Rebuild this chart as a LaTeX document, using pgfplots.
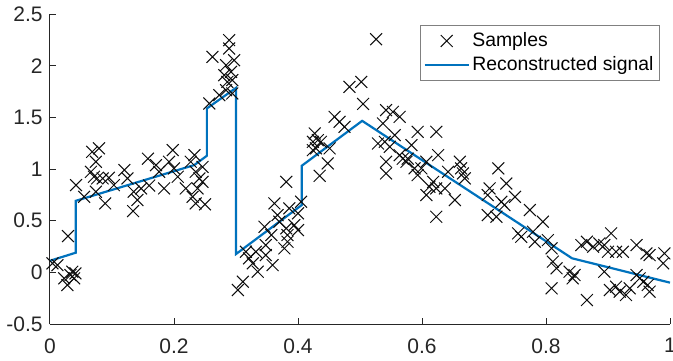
\documentclass[border=0pt]{standalone}
\usepackage{fontspec}
\setmainfont{Liberation Sans}
\usepackage{pgfplots}
\pgfplotsset{compat=1.18}
\definecolor{mblue}{rgb}{0,0.447,0.741}
\pgfplotsset{
 legx/.style={legend image code/.code={\draw[mark repeat=2,mark phase=2,##1] plot coordinates {(0pt,0pt) (11pt,0pt) (22pt,0pt)};}},
 legl/.style={legend image code/.code={\draw[##1] (0pt,0pt) -- (22pt,0pt);}},
}
\begin{document}
\fontsize{10.5}{12.6}\selectfont
\begin{tikzpicture}
\begin{axis}[
 width=310pt, height=155pt, scale only axis,
 xmin=0, xmax=1, ymin=-0.5, ymax=2.5,
 xtick={0,0.2,0.4,0.6,0.8,1}, ytick={-0.5,0,0.5,1,1.5,2,2.5},
 axis x line*=bottom, axis y line*=left,
 axis line style={-, black!85, line width=0.5pt},
 tick align=inside, major tick length=3pt,
 tick style={black!85, line width=0.5pt},
 /pgf/number format/assume math mode=true,
 ticklabel style={font=\fontsize{10.5}{12.6}\selectfont, text=black!85},
 xticklabel style={yshift=-3.5pt},
 legend cell align=left,
 legend style={at={(0.984,0.965)}, anchor=north east, draw=black!50, line width=0.5pt,
   font=\fontsize{9.7}{11.6}\selectfont, inner xsep=1.8pt, inner ysep=1.5pt,
   row sep=-0.5pt, nodes={inner xsep=1.25pt}},
 clip=false,
]
\addplot[only marks, mark=x, mark size=4.2pt, black!95, mark options={line width=0.5pt}, legx]
 table[row sep=\\] {
x y\\
0.004 0.087\\ 0.012 0.07\\ 0.023 -0.058\\ 0.028 -0.123\\ 0.033 -0.026\\ 0.036 0.006\\
0.039 -0.058\\ 0.041 -0.01\\ 0.029 0.351\\ 0.042 0.844\\ 0.055 0.731\\ 0.068 1.166\\
0.079 1.2\\ 0.074 1.07\\ 0.066 0.973\\ 0.071 0.925\\ 0.076 0.909\\ 0.085 0.909\\
0.095 0.915\\ 0.074 0.78\\ 0.089 0.667\\ 0.12 0.99\\ 0.103 0.844\\ 0.125 0.909\\
0.135 0.78\\ 0.141 0.70\\ 0.134 0.593\\ 0.147 0.812\\ 0.158 1.10\\ 0.16 0.84\\
0.171 1.037\\ 0.184 0.812\\ 0.176 0.973\\ 0.198 1.183\\ 0.192 1.07\\ 0.2 1.006\\
0.206 0.925\\ 0.219 0.812\\ 0.233 1.134\\ 0.227 1.07\\ 0.235 0.973\\ 0.246 1.02\\
0.241 0.909\\ 0.246 0.876\\ 0.238 0.812\\ 0.23 0.731\\ 0.235 0.667\\ 0.25 0.658\\
0.257 1.634\\ 0.262 2.085\\ 0.273 1.715\\ 0.289 2.247\\ 0.289 2.166\\ 0.297 2.053\\
0.284 2.005\\ 0.281 1.908\\ 0.292 1.94\\ 0.286 1.843\\ 0.294 1.86\\ 0.294 1.731\\
0.284 1.763\\ 0.316 0.199\\ 0.321 0.135\\ 0.327 0.087\\ 0.311 -0.091\\ 0.303 -0.171\\
0.332 0.199\\ 0.335 0.006\\ 0.348 0.264\\ 0.346 0.441\\ 0.348 0.167\\ 0.357 0.361\\
0.359 0.07\\ 0.362 0.667\\ 0.367 0.554\\ 0.37 0.49\\ 0.378 0.232\\ 0.381 0.426\\
0.383 0.361\\ 0.383 0.296\\ 0.386 0.619\\ 0.394 0.457\\ 0.4 0.409\\ 0.4 0.571\\
0.405 0.683\\ 0.381 0.876\\ 0.427 1.344\\ 0.424 1.263\\ 0.432 1.279\\ 0.429 1.2\\
0.424 1.183\\ 0.437 1.263\\ 0.451 1.2\\ 0.448 1.054\\ 0.435 0.934\\ 0.459 1.505\\
0.467 1.456\\ 0.475 1.408\\ 0.483 1.795\\ 0.502 1.843\\ 0.505 1.63\\ 0.526 2.256\\
0.542 1.57\\ 0.553 1.553\\ 0.564 1.505\\ 0.537 1.441\\ 0.593 1.36\\ 0.623 1.36\\
0.529 1.247\\ 0.54 1.263\\ 0.548 1.215\\ 0.556 1.328\\ 0.542 1.07\\ 0.542 0.957\\
0.564 1.134\\ 0.569 1.10\\ 0.575 1.07\\ 0.577 1.10\\ 0.583 1.231\\ 0.588 1.006\\
0.593 0.941\\ 0.599 1.006\\ 0.607 1.07\\ 0.626 1.134\\ 0.607 0.748\\ 0.612 0.828\\
0.618 0.876\\ 0.623 0.812\\ 0.623 0.538\\ 0.637 0.812\\ 0.642 0.973\\ 0.653 0.70\\
0.661 1.07\\ 0.663 1.006\\ 0.666 0.957\\ 0.669 0.909\\ 0.723 1.006\\ 0.736 0.86\\
0.709 0.812\\ 0.706 0.748\\ 0.728 0.683\\ 0.733 0.651\\ 0.75 0.731\\ 0.706 0.554\\
0.72 0.538\\ 0.774 0.603\\ 0.795 0.49\\ 0.755 0.377\\ 0.76 0.344\\ 0.779 0.393\\
0.782 0.296\\ 0.803 0.312\\ 0.809 0.232\\ 0.811 0.103\\ 0.809 -0.155\\ 0.817 0.039\\
0.838 0.006\\ 0.846 -0.026\\ 0.843 -0.058\\ 0.857 0.264\\ 0.866 0.296\\ 0.876 0.248\\
0.886 0.28\\ 0.905 0.377\\ 0.894 0.264\\ 0.9 0.199\\ 0.913 0.199\\ 0.924 0.199\\
0.946 0.264\\ 0.962 0.183\\ 0.967 0.167\\ 0.991 0.183\\ 0.989 0.087\\ 0.894 0.006\\
0.866 -0.268\\ 0.903 -0.171\\ 0.913 -0.139\\ 0.919 -0.187\\ 0.929 -0.219\\ 0.935 -0.155\\
0.946 -0.026\\ 0.951 -0.058\\ 0.957 -0.091\\ 0.967 -0.187\\ 0.964 -0.123\\
};
\addlegendentry{Samples}
\addplot[mblue, line width=1.1pt, mark=none, legl]
 coordinates {
(0,0.112) (0.0415,0.19) (0.0415,0.692) (0.2326,1.038) (0.253,1.128) (0.253,1.586)
(0.300,1.785) (0.300,0.177) (0.406,0.651) (0.406,1.031) (0.5035,1.466)
(0.842,0.136) (1,-0.10)
};
\addlegendentry{Reconstructed signal}
\end{axis}
\pgfresetboundingbox
\path[use as bounding box] ([xshift=-25pt,yshift=-18pt]current axis.south west) rectangle ([xshift=1.5pt,yshift=7pt]current axis.north east);
\end{tikzpicture}
\end{document}
